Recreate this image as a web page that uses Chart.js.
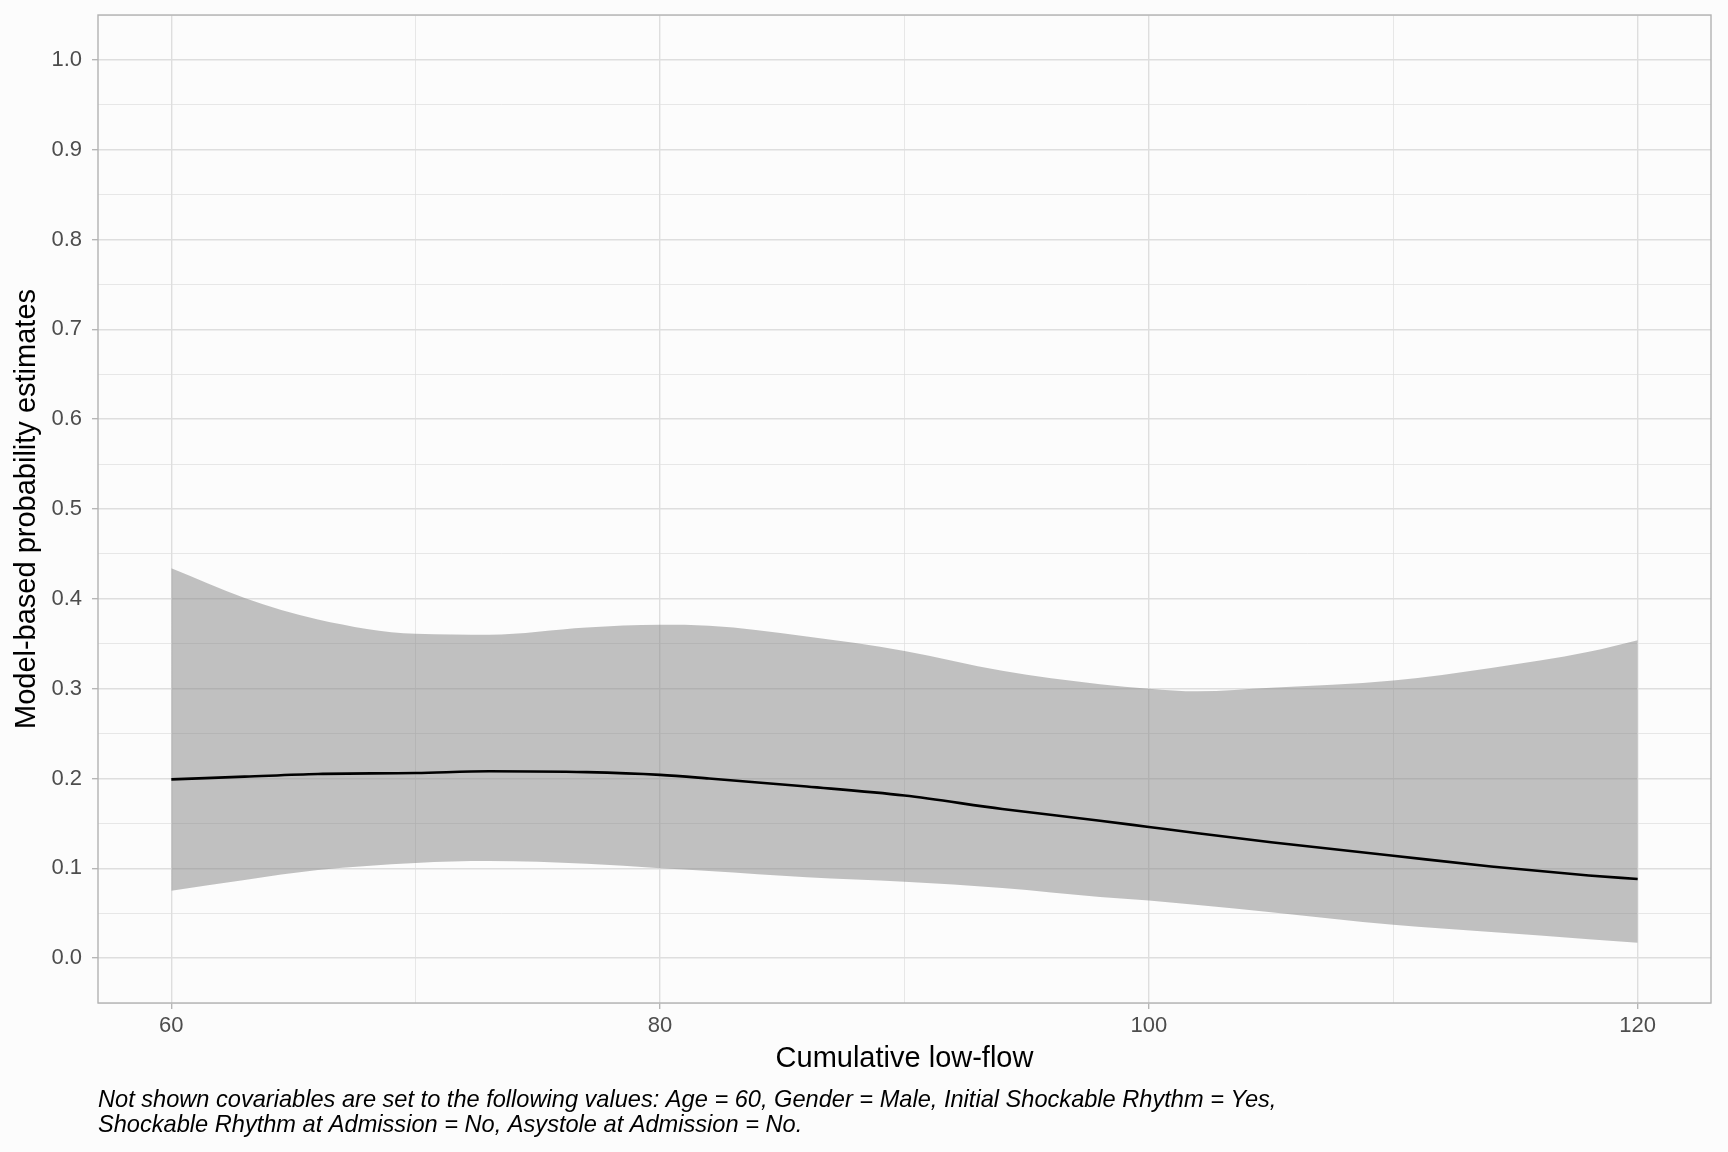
<!DOCTYPE html>
<html>
<head>
<meta charset="utf-8">
<title>Model-based probability estimates</title>
<script src="https://cdn.jsdelivr.net/npm/chart.js@4.4.1/dist/chart.umd.min.js"></script>
<style>
  html, body { margin: 0; padding: 0; background: #fcfcfc; }
  canvas { display: block; }
</style>
</head>
<body>
<canvas id="chart-1" width="1728" height="1152"></canvas>
<script>
// values
const lowFlow = [60, 63, 66, 70, 73, 77, 80, 82, 86, 90, 94, 98, 100, 102, 105, 110, 114, 118, 120];
const fitEstimate = [0.199, 0.202, 0.205, 0.206, 0.208, 0.207, 0.204, 0.2, 0.191, 0.181, 0.166, 0.153, 0.146, 0.139, 0.129, 0.114, 0.102, 0.092, 0.088];
const upperBound = [0.434, 0.401, 0.377, 0.361, 0.36, 0.368, 0.371, 0.37, 0.358, 0.342, 0.32, 0.305, 0.3, 0.297, 0.301, 0.309, 0.323, 0.341, 0.354];
const lowerBound = [0.075, 0.087, 0.098, 0.106, 0.108, 0.105, 0.1, 0.097, 0.09, 0.085, 0.078, 0.068, 0.064, 0.059, 0.051, 0.037, 0.029, 0.021, 0.017];
const xMajorTicks = [60, 80, 100, 120];
const yMajorTicks = ["0.0", "0.1", "0.2", "0.3", "0.4", "0.5", "0.6", "0.7", "0.8", "0.9", "1.0"];
const captionLines = [
  "Not shown covariables are set to the following values: Age = 60, Gender = Male, Initial Shockable Rhythm = Yes,",
  "Shockable Rhythm at Admission = No, Asystole at Admission = No.",
];

const toPoints = (ys) => lowFlow.map((x, i) => ({ x: x, y: ys[i] }));
const yLabel = (v) => {
  const k = Math.round(v * 100);
  return k % 10 === 0 && k >= 0 && k <= 100 ? yMajorTicks[k / 10] : "";
};
const xLabel = (v) => (xMajorTicks.includes(Math.round(v)) ? String(Math.round(v)) : "");

const panelPlugin = {
  id: "panel",
  beforeDraw(chart) {
    const c = chart.ctx;
    c.save();
    c.fillStyle = "#fcfcfc";
    c.fillRect(0, 0, chart.width, chart.height);
    c.restore();
  },
  afterDraw(chart) {
    const c = chart.ctx;
    const a = chart.chartArea;
    c.save();
    c.strokeStyle = "#b3b3b3";
    c.lineWidth = 1.4;
    c.strokeRect(a.left, a.top, a.right - a.left, a.bottom - a.top);
    c.fillStyle = "#000";
    c.font = "italic 23.6px 'Liberation Sans', Arial, sans-serif";
    c.textBaseline = "alphabetic";
    c.textAlign = "left";
    captionLines.forEach((line, i) => c.fillText(line, a.left, 1107 + i * 25));
    c.restore();
  },
};

const ctx_1 = document.getElementById("chart-1");
new Chart(ctx_1, {
  type: "line",
  data: {
    datasets: [
      {
        label: "estimate",
        data: toPoints(fitEstimate),
        borderColor: "#000000",
        borderWidth: 2.6,
        pointRadius: 0,
        fill: false,
        cubicInterpolationMode: "monotone",
      },
      {
        label: "upper",
        data: toPoints(upperBound),
        borderWidth: 0,
        borderColor: "rgba(0,0,0,0)",
        pointRadius: 0,
        backgroundColor: "rgba(128,128,128,0.48)",
        fill: "+1",
        cubicInterpolationMode: "monotone",
      },
      {
        label: "lower",
        data: toPoints(lowerBound),
        borderWidth: 0,
        borderColor: "rgba(0,0,0,0)",
        pointRadius: 0,
        fill: false,
        cubicInterpolationMode: "monotone",
      },
    ],
  },
  options: {
    responsive: false,
    devicePixelRatio: 1,
    animation: false,
    layout: {
      padding: { left: 0, right: 17, top: 15, bottom: 69 },
    },
    plugins: {
      legend: { display: false },
      tooltip: { enabled: false },
    },
    scales: {
      x: {
        type: "linear",
        min: 57,
        max: 123,
        afterFit: (scale) => {
          scale.height = 80;
          scale.paddingLeft = 0;
          scale.paddingRight = 0;
        },
        border: { display: false },
        grid: {
          color: "#dedede",
          lineWidth: (c) => (xLabel(c.tick.value) ? 1.4 : 0.7),
          tickLength: 6,
          tickWidth: 1.3,
          tickColor: (c) => (xLabel(c.tick.value) ? "#b3b3b3" : "rgba(0,0,0,0)"),
        },
        ticks: {
          stepSize: 10,
          includeBounds: false,
          autoSkip: false,
          maxRotation: 0,
          padding: 4,
          color: "#4d4d4d",
          font: { family: "'Liberation Sans', Arial, sans-serif", size: 22 },
          callback: (v) => xLabel(v),
        },
        title: {
          display: true,
          text: "Cumulative low-flow",
          color: "#000000",
          padding: { top: 0, bottom: 7 },
          font: { family: "'Liberation Sans', Arial, sans-serif", size: 29 },
        },
      },
      y: {
        type: "linear",
        min: -0.05,
        max: 1.05,
        afterFit: (scale) => {
          scale.width = 98;
          scale.paddingTop = 0;
          scale.paddingBottom = 0;
        },
        border: { display: false },
        grid: {
          color: "#dedede",
          lineWidth: (c) => (yLabel(c.tick.value) ? 1.4 : 0.7),
          tickLength: 6,
          tickWidth: 1.3,
          tickColor: (c) => (yLabel(c.tick.value) ? "#b3b3b3" : "rgba(0,0,0,0)"),
        },
        ticks: {
          stepSize: 0.05,
          includeBounds: false,
          autoSkip: false,
          padding: 10,
          color: "#4d4d4d",
          font: { family: "'Liberation Sans', Arial, sans-serif", size: 22 },
          callback: (v) => yLabel(v),
        },
        title: {
          display: true,
          text: "Model-based probability estimates",
          color: "#000000",
          padding: { top: 12, bottom: 0 },
          font: { family: "'Liberation Sans', Arial, sans-serif", size: 29, lineHeight: 1 },
        },
      },
    },
  },
  plugins: [panelPlugin],
});
</script>
</body>
</html>
